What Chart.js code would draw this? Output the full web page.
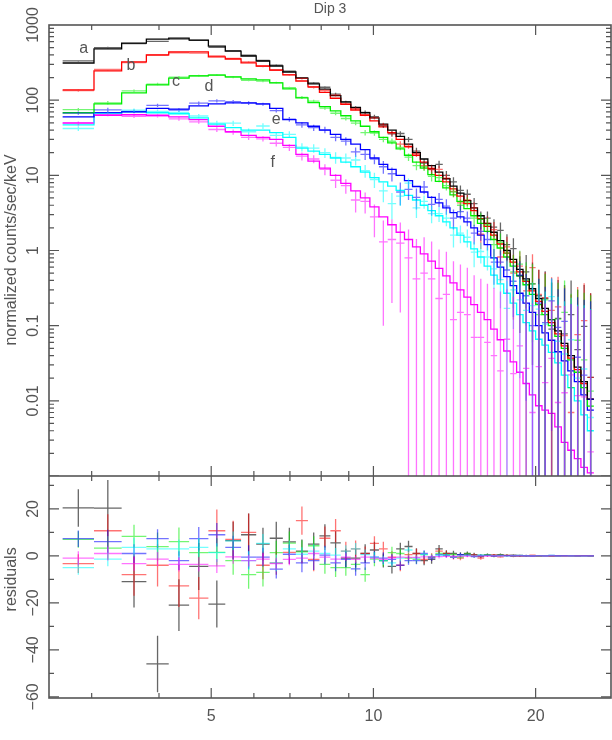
<!DOCTYPE html>
<html><head><meta charset="utf-8">
<script src="https://cdn.jsdelivr.net/npm/chart.js@4.4.1/dist/chart.umd.min.js"></script>
<style>
html,body{margin:0;padding:0;background:#fff;}
#wrap{position:relative;width:612px;height:740px;}
canvas{position:absolute;left:0;}
</style></head>
<body><div id="wrap"><canvas id="top" width="612" height="476" style="top:0"></canvas><canvas id="bot" width="612" height="264" style="top:476px"></canvas></div>
<script>
const title = "Dip 3";
const yTitleTop = "normalized counts/sec/keV";
const yTitleBot = "residuals";
const xTickLabels = [5, 10, 20];
const xMinorTicks = [3, 4, 6, 7, 8, 9];
const resTickLabels = [-60, -40, -20, 0, 20];
const seriesNames = ["a", "b", "c", "d", "e", "f"];
const seriesColors = ["#000000", "#ff0000", "#00ee00", "#0000ff", "#00ffff", "#ff00ff"];
// energy bin edges (keV)
const edges = [2.65,3.03,3.41,3.79,4.17,4.55,4.94,5.31,5.68,6.06,6.42,6.79,7.18,7.56,7.94,8.32,8.70,9.08,9.46,9.85,10.24,10.63,11.02,11.42,11.82,12.22,12.62,13.03,13.45,13.87,14.29,14.72,15.16,15.60,16.05,16.51,16.97,17.45,17.94,18.44,18.95,19.47,20.00,20.55,21.12,21.71,22.32,22.95,23.60,24.27,24.95,25.65];
// model values
const modelA = [312,480,575,650,670,630,525,450,387,332,285,237,197,165,140,115,95,80,68,58,48,40,33,26,20,16.5,13.5,11,9.0,7.2,5.8,4.6,3.7,2.9,2.3,1.75,1.35,1.0,0.76,0.56,0.42,0.31,0.23,0.17,0.12,0.085,0.058,0.04,0.028,0.018,0.0105];
const modelB = [137,245,323,400,440,440,376,353,313,285,252,217,180,150,127,106,88,74,63,53,44,37,30,24,18.5,15,12.4,10,8.2,6.6,5.3,4.2,3.4,2.65,2.1,1.6,1.22,0.92,0.7,0.52,0.39,0.29,0.21,0.155,0.11,0.078,0.054,0.037,0.026,0.017,0.0105];
const modelC = [68,89,125,160,197,210,216,204,192,186,170,141,107,93,82,72,62,53,45,38,32,27,22.5,18.5,15,12.5,10.2,8.3,6.8,5.5,4.5,3.6,2.9,2.3,1.8,1.4,1.08,0.82,0.62,0.46,0.35,0.26,0.19,0.14,0.1,0.072,0.05,0.035,0.024,0.015,0.0085];
const modelD = [60,68,70,78,76,84,89,92,92,89,78,55,50,45,40,35,30,26,22,17,14,12,10,8.5,7.1,6.0,5.1,4.3,3.7,3.2,2.8,2.4,2.0,1.6,1.2,0.8,0.6,0.45,0.34,0.27,0.2,0.15,0.1,0.08,0.064,0.045,0.034,0.025,0.018,0.012,0.0075];
const modelE = [47,68,70,68,66,58,48,43,40,40,37,32,23,21,19,17,15,13,11,9.3,8.2,7.2,6.3,5.4,4.7,4.0,3.4,2.9,2.4,2.0,1.6,1.3,1.05,0.82,0.62,0.47,0.36,0.27,0.2,0.14,0.11,0.085,0.066,0.055,0.044,0.032,0.022,0.015,0.01,0.0065,0.004];
const modelF = [50,63,64,63,60,55,45,38,34,32,30,25,19,15.5,12.5,10,7.8,6.2,5.0,3.8,2.8,2.2,1.75,1.4,1.12,0.9,0.72,0.58,0.46,0.37,0.3,0.24,0.19,0.15,0.12,0.09,0.065,0.046,0.033,0.024,0.017,0.012,0.0086,0.0075,0.0068,0.0045,0.0028,0.0022,0.0017,0.0013,0.0011];
// residuals (data - model)
const resA = [20.4,20.3,-11,-46,-21,-4.5,-20.5,6.5,9,5,7.5,6,2,5,8.5,5.5,-1,-1,1,2.5,-2,-4.5,3,4,1,-2,-1.5,3,1,1,0.5,1,0.5,-0.3,0.4,0.3,0.5,0.2,0.3,-0.1,0.1,0.05,0.02,0.06,-0.03,0.04,0.02,0.1,0.02,0.08,0.01];
const resB = [-3.3,10.7,-8,-4,-12.8,-18,10.7,7,10,-4,-3,1.5,15,-1.5,7.5,10.7,2,3,1,5.3,3,-0.5,-4,0.5,1,-1.5,-0.5,2,1,-0.5,-1,0.5,0.3,-1,0.2,0.3,-0.4,0.2,-0.2,0.1,-0.1,0.3,0.05,0.08,0.05,0.1,0.02,-0.03,0.05,0.1,0.01];
const resC = [7,3.3,8.3,3.9,6.1,1.4,1.5,-2,-8,-7,1.4,5.4,1.7,4.3,-3.6,-5,-5,-3.6,-8,-1.4,-2,1.4,1,-1,-1.5,0.5,-0.5,1,0.5,0.5,-0.5,0.8,-0.2,0.3,0.4,-0.2,0.2,0.1,-0.1,0.2,0.05,0.1,-0.05,0.08,0.02,0.05,0.1,-0.02,0.04,0.02,0.005];
const resD = [7.3,6.1,1,7.3,-2,7.3,9,3.6,-0.5,-0.5,-5.6,0.7,-3,-2,0.3,-3,-1.5,-5.5,-3,-0.5,-1,-1.5,-4,-2,-2,1,-1,0.5,0.2,-0.5,0.5,0.3,-0.3,0.2,0.2,-0.1,0.1,0.1,0.05,0.2,0.05,-0.05,0.1,0.03,0.15,0.05,0.08,-0.03,0.02,0.01,0.003];
const resE = [-5,-1.4,3.6,3,3,3.6,1.4,6.4,-2,5.3,-3,3,0.7,2,1,0.3,2,3,0.5,-0.5,-2,-3,-1,2.5,-1,0.5,-0.3,0.2,0.3,-0.4,0.1,0.2,-0.1,0.15,0.2,0.1,0.05,-0.1,0.1,0.08,0.05,0.1,0.1,0.05,0.2,0.03,0.02,0.05,0.01,0.02,0.002];
const resF = [-1,1,-3.3,-1.4,-3.6,-3.6,-4.3,-0.4,-2,-1.4,-3.3,-1.5,-1,1,-0.5,-1.4,-0.5,-1.5,-0.5,-1,-1.5,-0.8,-0.5,-0.6,-0.7,-0.4,-0.3,-0.35,-0.2,-0.25,-0.15,-0.1,-0.12,-0.08,-0.06,-0.05,-0.04,0.02,-0.01,0.03,0.01,-0.005,0.02,0.01,0.03,0.005,0.01,0.02,0.01,0.01,0.001];
// 1-sigma errors
const errA = [8,12,11,12,11,10,10,8,9,7,7,6,5,5,5,5,4,4,4,3.5,3,3,2.6,2.4,2.2,2,1.8,1.6,1.4,1.2,1,0.9,0.8,0.7,0.6,0.55,0.5,0.45,0.4,0.38,0.35,0.33,0.3,0.3,0.28,0.28,0.27,0.26,0.25,0.25,0.25];
const errB = [4,7,9,9,9,9,9,8,8,6,5,5,6,5,5,5,4,3.5,3,3,3,2.5,2.5,2,2,1.8,1.6,1.4,1.2,1,0.9,0.8,0.7,0.6,0.55,0.5,0.45,0.4,0.38,0.35,0.33,0.3,0.3,0.28,0.28,0.27,0.26,0.25,0.25,0.25,0.25];
const errC = [3.5,5,5,6,6,6,6,6,6,6,5,5,5,4,4,4,3.5,3,3,3,2.5,2.5,2,2,1.8,1.6,1.4,1.2,1,0.9,0.8,0.7,0.6,0.55,0.5,0.45,0.4,0.38,0.35,0.33,0.3,0.3,0.28,0.27,0.26,0.25,0.25,0.25,0.24,0.24,0.24];
const errD = [3.5,5,4,4,4,5,5,5,5,4,4,4,4,4,4,3.5,3.5,3,3,2.5,2.5,2.2,2,1.8,1.6,1.4,1.2,1,0.9,0.8,0.7,0.6,0.5,0.45,0.4,0.35,0.3,0.28,0.26,0.25,0.24,0.23,0.22,0.22,0.21,0.21,0.2,0.2,0.2,0.2,0.2];
const errE = [3,3,4,4,4,4,4,4,4,4,3.5,3.5,3,3,3,3,2.5,2.5,2.2,2,1.8,1.6,1.4,1.2,1,0.9,0.8,0.7,0.6,0.5,0.45,0.4,0.35,0.3,0.28,0.26,0.24,0.22,0.21,0.2,0.2,0.19,0.19,0.18,0.18,0.18,0.17,0.17,0.17,0.16,0.16];
const errF = [3,3,3,3,3,3,3,3,2.5,2.5,2.5,2.5,2.2,2,2,1.8,1.6,1.5,1.4,1.3,1.2,1.2,1.1,1.1,1,1,0.9,0.8,0.7,0.6,0.5,0.45,0.4,0.35,0.3,0.28,0.26,0.24,0.22,0.2,0.2,0.19,0.19,0.18,0.18,0.18,0.17,0.17,0.17,0.16,0.16];
// label anchor positions (keV, value)
const labelX = [2.9, 3.55, 4.3, 4.95, 6.6, 6.5];
const labelY = [480, 290, 175, 150, 55, 15];

const models = [modelA, modelB, modelC, modelD, modelE, modelF];
const residuals = [resA, resB, resC, resD, resE, resF];
const errors = [errA, errB, errC, errD, errE, errF];
const XMIN = 2.5, XMAX = 27.6;
const GREY = "#555";
const FONT = "Liberation Sans, DejaVu Sans, sans-serif";

function stepData(m){
  const pts=[];
  for(let i=0;i<m.length;i++){pts.push({x:edges[i],y:m[i]});pts.push({x:edges[i+1],y:m[i]});}
  return pts;
}
function hexA(c,a){const r=parseInt(c.substr(1,2),16),g=parseInt(c.substr(3,2),16),b=parseInt(c.substr(5,2),16);return `rgba(${r},${g},${b},${a})`;}

function drawCrosses(chart, top){
  const ctx=chart.ctx, xs=chart.scales.x, ys=chart.scales.y, a=chart.chartArea;
  ctx.save();ctx.beginPath();ctx.rect(a.left,a.top,a.right-a.left,a.bottom-a.top);ctx.clip();
  ctx.lineWidth=1.3;
  for(let s=0;s<6;s++){
    ctx.strokeStyle=hexA(seriesColors[s], s===0?0.6:0.55);
    for(let i=0;i<edges.length-1;i++){
      const xc=Math.sqrt(edges[i]*edges[i+1]);
      let v = top ? models[s][i]+residuals[s][i] : residuals[s][i];
      const e=errors[s][i];
      let lo=v-e, hi=v+e;
      const px0=xs.getPixelForValue(edges[i]), px1=xs.getPixelForValue(edges[i+1]), pxc=xs.getPixelForValue(xc);
      const minV = top?1e-4:-1000;
      const pv = ys.getPixelForValue(Math.max(v,minV));
      const plo = ys.getPixelForValue(Math.max(lo,minV)), phi=ys.getPixelForValue(hi);
      ctx.beginPath();
      if(v>minV){ctx.moveTo(px0,pv);ctx.lineTo(px1,pv);}
      ctx.moveTo(pxc,plo);ctx.lineTo(pxc,phi);ctx.stroke();
    }
  }
  ctx.restore();
}
function frame(chart){
  const ctx=chart.ctx,a=chart.chartArea;
  ctx.save();ctx.strokeStyle=GREY;ctx.lineWidth=1.6;
  ctx.strokeRect(a.left,a.top,a.right-a.left,a.bottom-a.top);
  ctx.lineWidth=1.2;
  const xs=chart.scales.x;
  const allX=[...xMinorTicks.map(v=>[v,5]),...xTickLabels.map(v=>[v,10])];
  ctx.beginPath();
  allX.forEach(([v,l])=>{const p=xs.getPixelForValue(v);ctx.moveTo(p,a.bottom);ctx.lineTo(p,a.bottom-l);ctx.moveTo(p,a.top);ctx.lineTo(p,a.top+l);});
  ctx.stroke();ctx.restore();
}
function yTick(ctx,a,p,l){ctx.moveTo(a.left,p);ctx.lineTo(a.left+l,p);ctx.moveTo(a.right,p);ctx.lineTo(a.right-l,p);}
function vText(ctx,t,x,y,size){ctx.save();ctx.translate(x,y);ctx.rotate(-Math.PI/2);ctx.fillStyle=GREY;ctx.font=`${size}px ${FONT}`;ctx.textAlign="center";ctx.textBaseline="middle";ctx.fillText(t,0,0);ctx.restore();}

const topPlugin={id:"topP",
  afterDatasetsDraw(chart){drawCrosses(chart,true);},
  afterDraw(chart){
    frame(chart);
    const ctx=chart.ctx,a=chart.chartArea,ys=chart.scales.y,xs=chart.scales.x;
    ctx.save();ctx.strokeStyle=GREY;ctx.lineWidth=1.2;ctx.beginPath();
    for(let d=-3;d<3;d++){for(let k=1;k<10;k++){const p=ys.getPixelForValue(k*Math.pow(10,d));yTick(ctx,a,p,k===1?10:5);}}
    ctx.stroke();ctx.restore();
    for(let d=-2;d<=3;d++){const v=Math.pow(10,d);vText(ctx,String(v),34,ys.getPixelForValue(v),16);}
    vText(ctx,yTitleTop,12,250,16);
    ctx.save();ctx.fillStyle=GREY;ctx.font=`14px ${FONT}`;ctx.textAlign="center";ctx.textBaseline="middle";
    ctx.fillText(title,(a.left+a.right)/2,9);
    ctx.font=`16px ${FONT}`;
    for(let s=0;s<6;s++)ctx.fillText(seriesNames[s],xs.getPixelForValue(labelX[s]),ys.getPixelForValue(labelY[s]));
    ctx.restore();
  }};
const botPlugin={id:"botP",
  afterDatasetsDraw(chart){drawCrosses(chart,false);},
  afterDraw(chart){
    frame(chart);
    const ctx=chart.ctx,a=chart.chartArea,ys=chart.scales.y,xs=chart.scales.x;
    ctx.save();ctx.strokeStyle=GREY;ctx.lineWidth=1.2;ctx.beginPath();
    for(let v=-60;v<=30;v+=10){yTick(ctx,a,ys.getPixelForValue(v),v%20===0?10:5);}
    ctx.stroke();ctx.restore();
    resTickLabels.forEach(v=>vText(ctx,v<0?"\u2212"+(-v):String(v),34,ys.getPixelForValue(v),16));
    vText(ctx,yTitleBot,12,ys.getPixelForValue(-10),16);
    ctx.save();ctx.fillStyle=GREY;ctx.font=`16px ${FONT}`;ctx.textAlign="center";ctx.textBaseline="middle";
    xTickLabels.forEach(v=>ctx.fillText(String(v),xs.getPixelForValue(v),241));
    ctx.restore();
  }};

const common={responsive:false,animation:false,devicePixelRatio:1,
  plugins:{legend:{display:false},tooltip:{enabled:false}},
  elements:{point:{radius:0},line:{borderWidth:1.3,tension:0}}};

new Chart(document.getElementById("top"),{type:"line",
  data:{datasets:models.map((m,s)=>({data:stepData(m),borderColor:seriesColors[s],fill:false}))},
  options:{...common,layout:{padding:{left:49,right:1,top:25,bottom:0}},
    scales:{x:{type:"logarithmic",min:XMIN,max:XMAX,display:false},y:{type:"logarithmic",min:0.001,max:1000,display:false}}},
  plugins:[topPlugin]});
new Chart(document.getElementById("bot"),{type:"line",
  data:{datasets:[{data:[{x:XMIN,y:0},{x:XMAX,y:0}],borderColor:"rgba(0,0,0,0)"}]},
  options:{...common,layout:{padding:{left:49,right:1,top:0,bottom:42}},
    scales:{x:{type:"logarithmic",min:XMIN,max:XMAX,display:false},y:{type:"linear",min:-60.5,max:34,display:false}}},
  plugins:[botPlugin]});
</script></body></html>
